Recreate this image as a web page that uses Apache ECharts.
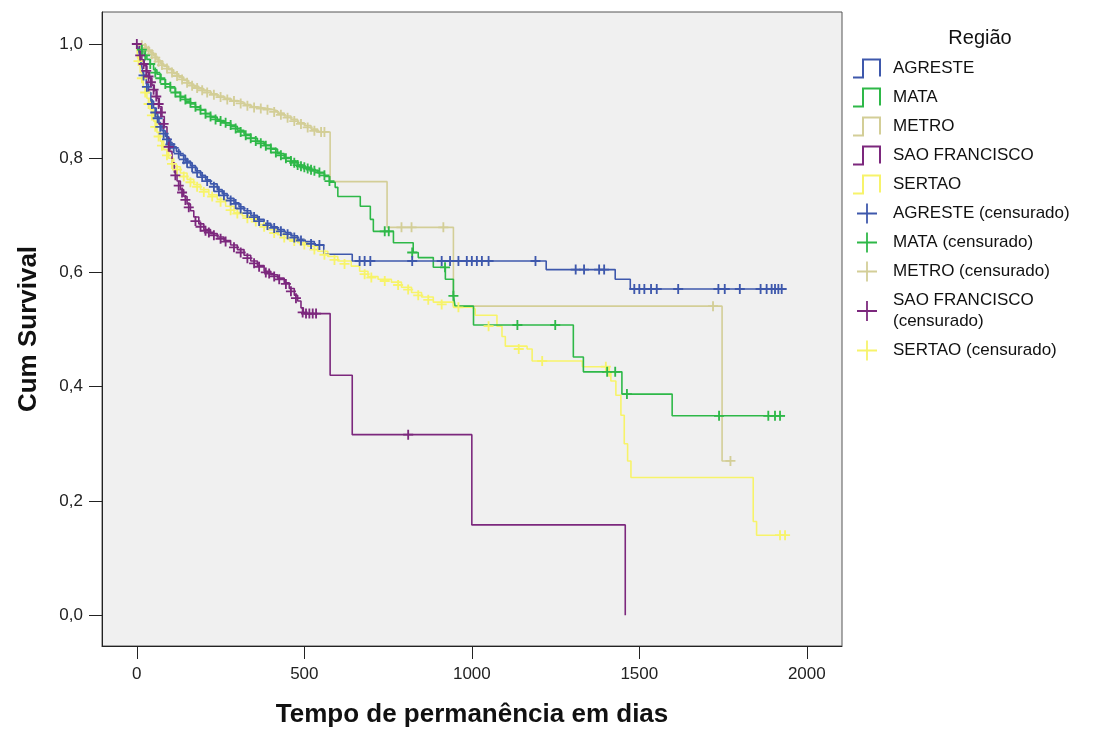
<!DOCTYPE html>
<html>
<head>
<meta charset="utf-8">
<script src="https://cdn.jsdelivr.net/npm/echarts@6/dist/echarts.min.js"></script>
<style>
html,body{margin:0;padding:0;background:#fff;}
#chart{width:1101px;height:733px;}
</style>
</head>
<body>
<div id="chart"></div>
<script>
// ---------- data ----------
const groups = ['AGRESTE', 'MATA', 'METRO', 'SAO FRANCISCO', 'SERTAO'];
const legendTitle = 'Região';
const xTitle = 'Tempo de permanência em dias';
const yTitle = 'Cum Survival';
const xTicks = [0, 500, 1000, 1500, 2000];
const yTicks = [0, 0.2, 0.4, 0.6, 0.8, 1.0];

// Kaplan-Meier step curves: [time (days), cumulative survival]
const agresteCurve = [[0,1],[5,0.99],[10,0.975],[15,0.96],[20,0.945],[28,0.93],[35,0.915],[42,0.9],[50,0.888],[58,0.873],[66,0.86],[75,0.848],[85,0.838],[95,0.828],[105,0.82],[118,0.812],[130,0.805],[145,0.795],[160,0.787],[175,0.778],[190,0.77],[205,0.762],[220,0.755],[240,0.745],[255,0.738],[270,0.73],[290,0.722],[305,0.715],[320,0.708],[340,0.7],[360,0.693],[380,0.686],[400,0.68],[420,0.675],[440,0.67],[460,0.664],[480,0.658],[500,0.654],[530,0.648],[558,0.632],[643,0.62],[1222,0.605],[1428,0.588],[1473,0.571],[1935,0.571]];
const mataCurve = [[0,1],[8,0.993],[15,0.987],[22,0.98],[30,0.973],[40,0.965],[50,0.955],[60,0.947],[72,0.938],[85,0.93],[100,0.923],[115,0.915],[130,0.907],[145,0.9],[160,0.895],[175,0.889],[190,0.884],[205,0.878],[220,0.872],[240,0.866],[260,0.862],[280,0.856],[300,0.849],[320,0.842],[340,0.835],[360,0.829],[380,0.823],[400,0.816],[420,0.808],[440,0.801],[460,0.795],[480,0.788],[500,0.784],[520,0.779],[540,0.774],[560,0.768],[575,0.758],[592,0.749],[600,0.733],[667,0.716],[697,0.693],[706,0.672],[766,0.652],[825,0.635],[840,0.626],[885,0.609],[921,0.588],[945,0.559],[950,0.541],[1005,0.508],[1303,0.452],[1333,0.426],[1448,0.387],[1598,0.349],[1935,0.349]];
const metroCurve = [[0,1],[10,0.998],[20,0.995],[30,0.99],[40,0.985],[50,0.979],[60,0.972],[70,0.966],[80,0.961],[95,0.955],[110,0.948],[125,0.942],[140,0.936],[155,0.93],[170,0.926],[185,0.922],[200,0.918],[220,0.913],[240,0.909],[260,0.905],[280,0.901],[300,0.898],[320,0.894],[340,0.89],[360,0.888],[380,0.886],[400,0.883],[420,0.879],[440,0.874],[460,0.868],[480,0.862],[500,0.857],[520,0.851],[540,0.846],[577,0.759],[747,0.679],[945,0.541],[1747,0.27],[1772,0.27]];
const saoFranciscoCurve = [[0,1],[8,0.985],[15,0.972],[22,0.962],[30,0.95],[38,0.94],[45,0.928],[52,0.918],[60,0.905],[67,0.89],[75,0.873],[82,0.855],[90,0.835],[98,0.812],[105,0.792],[112,0.775],[120,0.76],[130,0.745],[140,0.733],[150,0.72],[160,0.708],[170,0.697],[185,0.685],[200,0.675],[220,0.668],[240,0.662],[260,0.656],[280,0.648],[300,0.64],[320,0.63],[340,0.62],[360,0.612],[380,0.602],[400,0.596],[420,0.59],[440,0.582],[455,0.572],[470,0.56],[480,0.55],[490,0.538],[497,0.528],[577,0.42],[643,0.316],[1000,0.158],[1458,0]];
const sertaoCurve = [[0,1],[2,0.975],[10,0.95],[19,0.925],[30,0.905],[40,0.885],[50,0.865],[60,0.845],[70,0.83],[80,0.815],[95,0.8],[110,0.785],[130,0.774],[150,0.763],[170,0.754],[190,0.745],[215,0.736],[240,0.728],[265,0.716],[290,0.705],[315,0.699],[340,0.693],[365,0.684],[390,0.675],[420,0.666],[450,0.658],[480,0.652],[510,0.646],[540,0.637],[570,0.628],[600,0.62],[640,0.611],[665,0.602],[690,0.593],[720,0.588],[760,0.583],[790,0.574],[820,0.565],[850,0.557],[885,0.548],[945,0.539],[1000,0.536],[1010,0.525],[1075,0.506],[1090,0.488],[1100,0.471],[1165,0.466],[1180,0.445],[1330,0.435],[1405,0.426],[1415,0.41],[1430,0.385],[1445,0.35],[1455,0.3],[1465,0.27],[1475,0.241],[1840,0.164],[1850,0.14],[1940,0.14]];

// censored observations: [time, survival]
const agresteCens = [[20,0.945],[30,0.925],[45,0.895],[55,0.88],[62,0.87],[70,0.855],[80,0.843],[90,0.833],[100,0.824],[110,0.818],[125,0.808],[140,0.798],[150,0.792],[165,0.784],[180,0.775],[195,0.767],[210,0.76],[230,0.75],[245,0.742],[260,0.735],[280,0.726],[295,0.72],[310,0.712],[330,0.704],[350,0.697],[365,0.69],[390,0.683],[410,0.678],[430,0.672],[450,0.667],[470,0.661],[490,0.656],[520,0.65],[545,0.648],[665,0.62],[680,0.62],[697,0.62],[822,0.62],[910,0.62],[935,0.62],[960,0.62],[985,0.62],[1000,0.62],[1015,0.62],[1030,0.62],[1050,0.62],[1190,0.62],[1310,0.605],[1335,0.605],[1380,0.605],[1395,0.605],[1485,0.571],[1500,0.571],[1515,0.571],[1535,0.571],[1552,0.571],[1616,0.571],[1736,0.571],[1755,0.571],[1800,0.571],[1862,0.571],[1880,0.571],[1895,0.571],[1905,0.571],[1915,0.571],[1925,0.571]];
const mataCens = [[15,0.99],[25,0.98],[40,0.965],[55,0.95],[70,0.94],[85,0.93],[100,0.925],[115,0.915],[130,0.908],[145,0.903],[160,0.897],[175,0.89],[190,0.885],[205,0.878],[220,0.873],[235,0.868],[250,0.865],[265,0.862],[280,0.858],[295,0.852],[310,0.846],[325,0.84],[340,0.835],[355,0.83],[370,0.826],[385,0.822],[400,0.817],[415,0.81],[430,0.805],[445,0.8],[460,0.795],[470,0.792],[480,0.788],[490,0.786],[500,0.784],[510,0.782],[520,0.78],[530,0.778],[545,0.775],[560,0.77],[575,0.76],[740,0.672],[752,0.672],[822,0.635],[920,0.609],[945,0.559],[1136,0.508],[1249,0.508],[1404,0.426],[1428,0.426],[1463,0.387],[1738,0.349],[1885,0.349],[1905,0.349],[1920,0.349]];
const metroCens = [[15,0.998],[25,0.993],[35,0.988],[45,0.982],[55,0.976],[65,0.969],[75,0.963],[90,0.957],[105,0.95],[120,0.944],[135,0.938],[150,0.932],[165,0.927],[180,0.923],[195,0.919],[210,0.915],[230,0.911],[250,0.907],[270,0.903],[290,0.9],[310,0.896],[330,0.892],[350,0.889],[370,0.887],[390,0.885],[410,0.881],[430,0.876],[450,0.871],[470,0.865],[490,0.86],[510,0.854],[530,0.848],[550,0.846],[560,0.846],[790,0.679],[820,0.679],[915,0.679],[1720,0.541],[1772,0.27]];
const saoFranciscoCens = [[0,1],[10,0.98],[20,0.965],[28,0.953],[35,0.943],[42,0.933],[50,0.92],[58,0.908],[65,0.895],[72,0.88],[80,0.86],[95,0.82],[115,0.77],[125,0.752],[135,0.74],[145,0.727],[155,0.714],[175,0.69],[190,0.68],[205,0.673],[215,0.67],[230,0.665],[250,0.659],[265,0.654],[290,0.644],[310,0.635],[330,0.625],[350,0.616],[365,0.61],[385,0.6],[395,0.598],[410,0.593],[425,0.588],[445,0.58],[460,0.567],[475,0.555],[495,0.53],[505,0.528],[515,0.528],[525,0.528],[535,0.528],[810,0.316]];
const sertaoCens = [[5,0.97],[15,0.94],[25,0.915],[35,0.895],[45,0.875],[55,0.855],[65,0.838],[75,0.822],[90,0.805],[105,0.79],[120,0.78],[140,0.768],[160,0.758],[180,0.75],[200,0.741],[225,0.733],[250,0.724],[280,0.709],[300,0.703],[330,0.695],[355,0.689],[380,0.68],[410,0.669],[440,0.661],[470,0.655],[500,0.649],[530,0.64],[560,0.631],[590,0.622],[620,0.615],[680,0.597],[700,0.591],[740,0.585],[780,0.578],[810,0.57],[840,0.56],[870,0.552],[910,0.544],[960,0.539],[1050,0.506],[1140,0.466],[1210,0.445],[1400,0.435],[1410,0.426],[1920,0.14],[1935,0.14]];

const curves = [agresteCurve, mataCurve, metroCurve, saoFranciscoCurve, sertaoCurve];
const censored = [agresteCens, mataCens, metroCens, saoFranciscoCens, sertaoCens];
const colors = ['#3E58AC', '#2EB848', '#D3CE97', '#7C287D', '#F7F36A'];
const censSuffix = ' (censurado)';

// ---------- chart ----------
const stepIcon = 'path://M0,18H9V0H28V18H26V2H11V20H0Z';
const plusIcon = 'path://M8.2,0H9.8V8.2H18V9.8H9.8V18H8.2V9.8H0V8.2H8.2Z';
const censSymbol = 'path://M4,0H5.8V4H9.8V5.8H5.8V9.8H4V5.8H0V4H4Z';

const series = [];
const drawOrder = [2, 4, 1, 0, 3];
drawOrder.forEach(i => {
  series.push({
    name: groups[i], type: 'line', step: 'end', data: curves[i],
    showSymbol: false, symbol: 'none', z: 2,
    lineStyle: { color: colors[i], width: 1.6 },
    itemStyle: { color: colors[i] },
    emphasis: { disabled: true }
  });
});
drawOrder.forEach(i => {
  series.push({
    name: groups[i] + censSuffix, type: 'scatter', data: censored[i],
    symbol: censSymbol, symbolSize: [10, 10], z: 3,
    itemStyle: { color: colors[i], opacity: 1 },
    emphasis: { disabled: true }
  });
});

const legendData = groups.map(g => ({ name: g, icon: stepIcon }))
  .concat(groups.map(g => ({ name: g + censSuffix, icon: plusIcon })));

const fmtY = v => v.toFixed(1).replace('.', ',');
const fmtX = v => String(v);

const chart = echarts.init(document.getElementById('chart'), null, { renderer: 'canvas' });
chart.setOption({
  animation: false,
  backgroundColor: '#ffffff',
  textStyle: { fontFamily: 'Liberation Sans, Arial, sans-serif' },
  grid: { left: 102, right: 259, top: 12, bottom: 85, show: true, backgroundColor: '#F0F0F0', borderColor: '#555', borderWidth: 1 },
  title: {
    text: legendTitle, left: 975, top: 23, textAlign: 'center',
    textStyle: { fontSize: 20, fontWeight: 'normal', color: '#111' }
  },
  legend: {
    orient: 'vertical', left: 848, top: 53, itemWidth: 28, itemHeight: 20, itemGap: 8,
    data: legendData, selectedMode: false,
    formatter: n => n === 'SAO FRANCISCO' + censSuffix ? 'SAO FRANCISCO\n(censurado)' : n,
    textStyle: { fontSize: 17, color: '#111', lineHeight: 21, padding: [0, 0, 0, 7] }
  },
  xAxis: {
    type: 'value', min: -104, max: 2105,
    name: xTitle, nameLocation: 'middle', nameGap: 56,
    nameTextStyle: { fontSize: 26, fontWeight: 'bold', color: '#111' },
    axisLine: { show: true, onZero: false, lineStyle: { color: '#222', width: 1 } },
    axisTick: { show: true, customValues: xTicks, length: 13, lineStyle: { color: '#222' } },
    axisLabel: { customValues: xTicks, fontSize: 17, color: '#222', margin: 20, formatter: fmtX },
    splitLine: { show: false }
  },
  yAxis: {
    type: 'value', min: -0.054, max: 1.056,
    name: yTitle, nameLocation: 'middle', nameGap: 60, nameRotate: 90,
    nameTextStyle: { fontSize: 26, fontWeight: 'bold', color: '#111' },
    axisLine: { show: true, onZero: false, lineStyle: { color: '#222', width: 1 } },
    axisTick: { show: true, customValues: yTicks, length: 13, lineStyle: { color: '#222' } },
    axisLabel: { customValues: yTicks, fontSize: 17, color: '#222', margin: 19, formatter: fmtY },
    splitLine: { show: false }
  },
  series: series
});
</script>
</body>
</html>
